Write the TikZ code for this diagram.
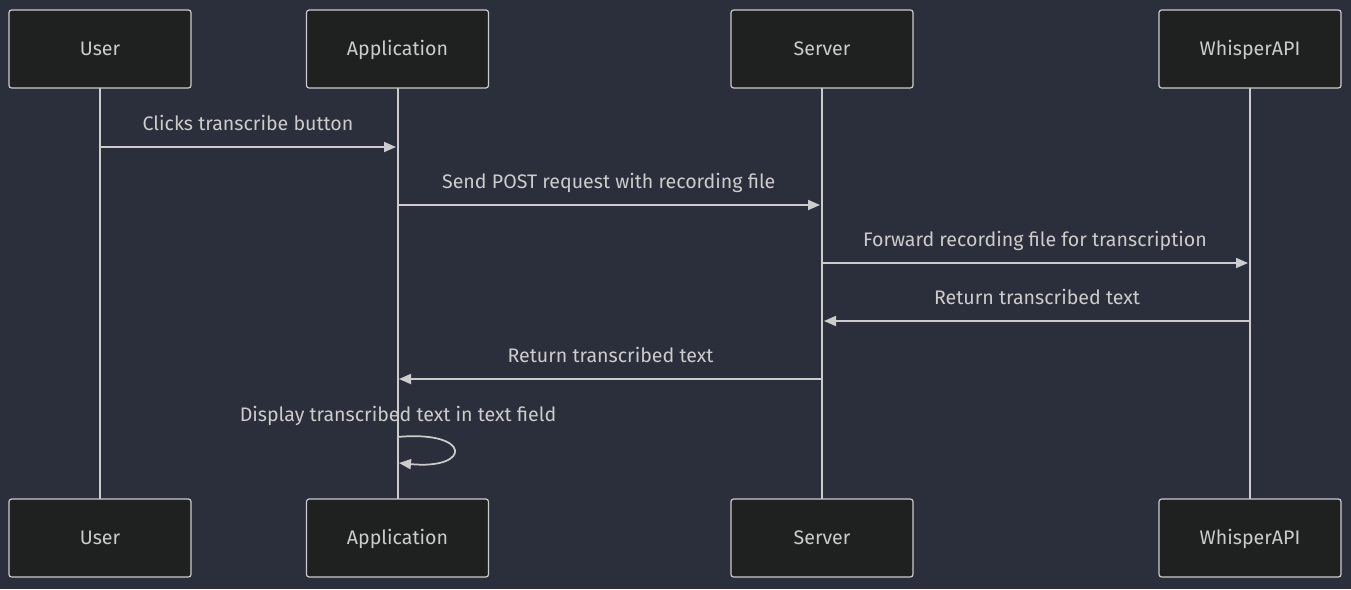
\documentclass[tikz,border=0pt]{standalone}
\usepackage{fontspec}
\setmainfont{Fira Sans}
\usetikzlibrary{arrows.meta,positioning}

\definecolor{bgcol}{HTML}{2A2F3B}
\definecolor{boxfill}{HTML}{1F2020}
\definecolor{linecol}{HTML}{CCCCCC}

\tikzset{
    actor/.style={draw=linecol,fill=boxfill,rounded corners=2pt,line width=0.9pt,
        minimum width=136.5pt,minimum height=58.5pt,text=linecol,
        text height=10pt,text depth=0.5pt,font=\fontsize{14.7}{17}\selectfont},
    lifeline/.style={draw=linecol,line width=1.5pt},
    msg/.style={draw=linecol,line width=1.3pt,-{Triangle[length=9pt,width=7.5pt]}},
    msglabel/.style={text=linecol,text height=10pt,text depth=0.5pt,
        font=\fontsize{14.7}{17}\selectfont}
}

\begin{document}
\begin{tikzpicture}[x=0.75pt,y=-0.75pt]
    \fill[bgcol] (0,0) rectangle (1351,589);
    \useasboundingbox (0,0) rectangle (1351,589);
    % lifelines
    \draw[lifeline] (100,49) -- (100,538);
    \draw[lifeline] (397.5,49) -- (397.5,538);
    \draw[lifeline] (822,49) -- (822,538);
    \draw[lifeline] (1250,49) -- (1250,538);
    % actors
    \node[actor] (user) at (100,49) {User};
    \node[actor] (app) at (397.5,49) {Application};
    \node[actor] (server) at (822,49) {Server};
    \node[actor] (api) at (1250,49) {WhisperAPI};
    \node[actor] (userB) at (100,538) {User};
    \node[actor] (appB) at (397.5,538) {Application};
    \node[actor] (serverB) at (822,538) {Server};
    \node[actor] (apiB) at (1250,538) {WhisperAPI};
    % message points
    \coordinate (m1a) at (100,147);
    \coordinate (m1b) at (396,147);
    \coordinate (m2a) at (397.5,205);
    \coordinate (m2b) at (820,205);
    \coordinate (m3a) at (822,263);
    \coordinate (m3b) at (1248,263);
    \coordinate (m4a) at (1250,321);
    \coordinate (m4b) at (824,321);
    \coordinate (m5a) at (822,379);
    \coordinate (m5b) at (399,379);
    \coordinate (m6a) at (397.5,437);
    \coordinate (m6b) at (399,463);
    % messages
    \draw[msg] (m1a) -- node[msglabel,yshift=17.25pt] {Clicks transcribe button} (m1b);
    \draw[msg] (m2a) -- node[msglabel,yshift=17.25pt] {Send POST request with recording file} (m2b);
    \draw[msg] (m3a) -- node[msglabel,yshift=17.25pt] {Forward recording file for transcription} (m3b);
    \draw[msg] (m4a) -- node[msglabel,yshift=17.25pt] {Return transcribed text} (m4b);
    \draw[msg] (m5a) -- node[msglabel,yshift=17.25pt] {Return transcribed text} (m5b);
    \draw[msg] (m6a) .. controls (472,430) and (472,470) .. (m6b);
    \node[msglabel] (selflabel) at (398,415) {Display transcribed text in text field};
\end{tikzpicture}
\end{document}
